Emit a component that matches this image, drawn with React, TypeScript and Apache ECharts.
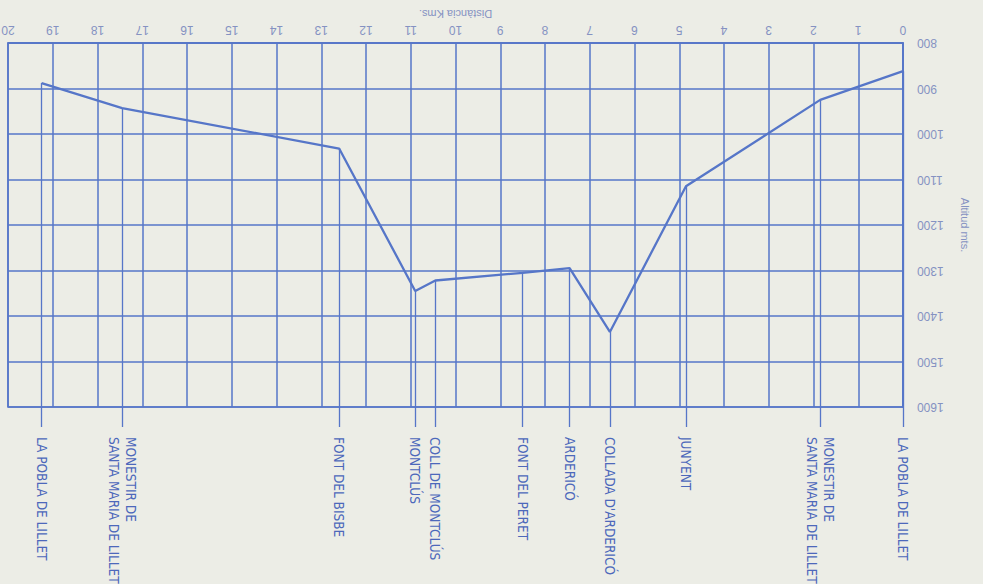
import React, { useEffect, useRef } from "react";
import * as echarts from "echarts";

// Distance (km) of each named point along the route
const distances = [0, 1.85, 4.85, 6.55, 7.45, 8.5, 10.45, 10.9, 12.6, 17.45, 19.25];
// Altitude (m) at each point
const altitudes = [862, 925, 1115, 1435, 1295, 1305, 1322, 1345, 1032, 943, 888];
// Place names at each point
const placeNames = [
  "LA POBLA DE LILLET",
  "MONESTIR DE\nSANTA MARIA DE LILLET",
  "JUNYENT",
  "COLLADA D'ARDERICÓ",
  "ARDERICÓ",
  "FONT DEL PERET",
  "COLL DE MONTCLÚS",
  "MONTCLÚS",
  "FONT DEL BISBE",
  "MONESTIR DE\nSANTA MARIA DE LILLET",
  "LA POBLA DE LILLET",
];
const xAxisName = "Distància Kms.";
const yAxisName = "Altitud mts.";

const BLUE = "#5676c8";
const LABEL = "#8592c2";
const PLACE = "#4d68bb";
const SANS = "Liberation Sans, Arial, sans-serif";
const NARROW = "DejaVu Sans Condensed, Liberation Sans, sans-serif";

export default function App() {
  const ref = useRef<HTMLDivElement>(null);
  useEffect(() => {
    if (!ref.current) return;
    const chart = echarts.init(ref.current, undefined, { renderer: "svg" });
    const pts = distances.map((d, i) => [d, altitudes[i]]);
    chart.setOption({
      animation: false,
      backgroundColor: "#ecede6",
      grid: {
        left: 8,
        right: 80,
        top: 43,
        bottom: 177,
        containLabel: false,
        outerBoundsMode: "none",
        show: true,
        borderColor: BLUE,
        borderWidth: 1.6,
        backgroundColor: "transparent",
      },
      xAxis: [
        {
          type: "value",
          min: 0,
          max: 20,
          interval: 1,
          inverse: true,
          position: "top",
          name: xAxisName,
          nameLocation: "middle",
          nameGap: 22,
          nameRotate: 180,
          nameTextStyle: { color: LABEL, fontSize: 11, fontFamily: SANS },
          axisLine: { show: true, lineStyle: { color: BLUE, width: 1.6 } },
          axisTick: { show: false },
          axisLabel: {
            rotate: 180,
            margin: 7,
            color: LABEL,
            fontSize: 12,
            fontFamily: SANS,
          },
          splitLine: { show: true, lineStyle: { color: BLUE, width: 1.5 } },
        },
        {
          type: "value",
          min: 0,
          max: 20,
          inverse: true,
          position: "bottom",
          axisLine: { show: false },
          splitLine: { show: false },
          axisTick: {
            show: true,
            customValues: distances,
            length: 20,
            lineStyle: { color: BLUE, width: 1.3 },
          },
          axisLabel: {
            show: true,
            customValues: distances,
            rotate: -90,
            margin: 30,
            color: PLACE,
            fontSize: 13.5,
            lineHeight: 17,
            fontFamily: NARROW,
            formatter: (v: number) => {
              const i = distances.indexOf(v);
              return i >= 0 ? placeNames[i] : "";
            },
          },
        },
      ],
      yAxis: {
        type: "value",
        min: 800,
        max: 1600,
        interval: 100,
        inverse: true,
        position: "right",
        name: yAxisName,
        nameLocation: "middle",
        nameGap: 56,
        nameRotate: -90,
        nameTextStyle: { color: LABEL, fontSize: 11, fontFamily: SANS },
        axisLine: { show: true, lineStyle: { color: BLUE, width: 1.6 } },
        axisTick: { show: false },
        axisLabel: {
          rotate: 180,
          margin: 14,
          color: LABEL,
          fontSize: 12,
          fontFamily: SANS,
          formatter: (v: number) => String(v),
        },
        splitLine: { show: true, lineStyle: { color: BLUE, width: 1.5 } },
      },
      series: [
        {
          type: "line",
          data: pts,
          symbol: "none",
          lineStyle: { color: BLUE, width: 2.3 },
          markLine: {
            silent: true,
            symbol: ["none", "none"],
            label: { show: false },
            lineStyle: { color: BLUE, width: 1.3, type: "solid", opacity: 1 },
            data: distances.map((d, i) => [
              { coord: [d, altitudes[i]] },
              { coord: [d, 1600] },
            ]),
          },
        },
      ],
    });
    return () => chart.dispose();
  }, []);
  return (
    <div
      ref={ref}
      style={{ position: "fixed", left: 0, top: 0, width: 983, height: 584 }}
    />
  );
}
